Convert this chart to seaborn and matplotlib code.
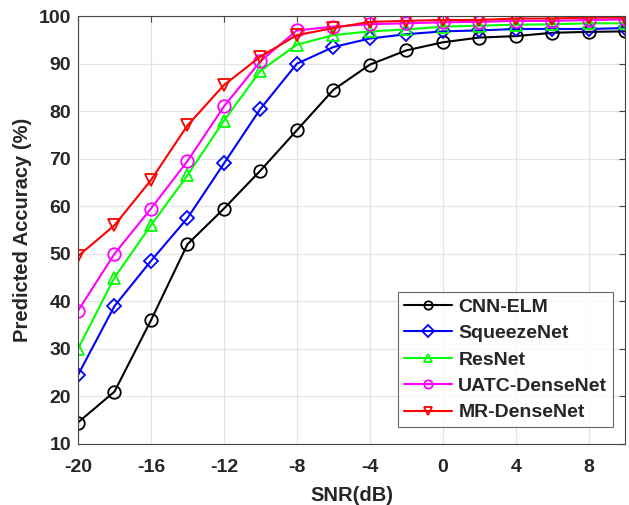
import numpy as np
import pandas as pd
import matplotlib
matplotlib.use("Agg")
import matplotlib.pyplot as plt
import seaborn as sns

# data
snr = [-20, -18, -16, -14, -12, -10, -8, -6, -4, -2, 0, 2, 4, 6, 8, 10]
cnn_elm = [14.5, 21.0, 36.0, 52.0, 59.5, 67.5, 76.0, 84.5, 89.8, 92.8, 94.5, 95.5, 95.8, 96.5, 96.7, 96.8]
squeezenet = [24.5, 39.0, 48.5, 57.5, 69.0, 80.5, 90.0, 93.5, 95.3, 96.2, 96.8, 97.0, 97.3, 97.3, 97.3, 97.5]
resnet = [30.0, 45.0, 56.0, 66.5, 78.0, 88.5, 94.0, 96.0, 96.8, 97.2, 97.8, 98.0, 98.2, 98.3, 98.5, 98.5]
uatc_densenet = [38.0, 50.0, 59.5, 69.5, 81.0, 90.5, 97.0, 97.8, 98.3, 98.5, 98.7, 98.8, 99.0, 99.0, 99.2, 99.3]
mr_densenet = [49.5, 56.0, 65.5, 77.0, 85.5, 91.5, 96.0, 97.5, 98.8, 99.0, 99.2, 99.2, 99.5, 99.5, 99.7, 99.7]

names = ["CNN-ELM", "SqueezeNet", "ResNet", "UATC-DenseNet", "MR-DenseNet"]
series = [cnn_elm, squeezenet, resnet, uatc_densenet, mr_densenet]
colors = ["black", "blue", "#00ff00", "magenta", "red"]
markers = ["o", "D", "^", "o", "v"]
msizes = [9, 7, 9, 9, 9]

sns.set_style("white")
plt.rcParams["font.family"] = ["Liberation Sans", "DejaVu Sans"]
plt.rcParams["font.weight"] = "bold"
plt.rcParams["axes.unicode_minus"] = False

fig = plt.figure(figsize=(6.29, 5.05), dpi=100)
ax = fig.add_axes([0.124, 0.121, 0.870, 0.847])

for name, vals, c, m, ms in zip(names, series, colors, markers, msizes):
    sns.lineplot(x=snr, y=vals, ax=ax, color=c, marker=m, markersize=ms,
                 markerfacecolor="none", markeredgecolor=c, markeredgewidth=1.3,
                 linewidth=1.5, label=name)

ax.set_xlim(-20, 10)
ax.set_ylim(10, 100)
ax.set_xticks(np.arange(-20, 10, 4))
ax.set_yticks(np.arange(10, 101, 10))
ax.grid(True, color="#e3e3e3", linewidth=0.9)
ax.tick_params(direction="in", top=True, right=True, labelsize=14, length=4, color="#444444")
ax.tick_params(axis="x", pad=11)
ax.tick_params(axis="y", pad=5)
for lab in ax.get_xticklabels() + ax.get_yticklabels():
    lab.set_fontweight("bold")
    lab.set_color("#262626")
for sp in ax.spines.values():
    sp.set_color("#444444")
    sp.set_linewidth(0.8)

ax.set_xlabel("SNR(dB)", fontsize=14.5, fontweight="bold", color="#262626", labelpad=7)
ax.set_ylabel("Predicted Accuracy (%)", fontsize=14.5, fontweight="bold", color="#262626", labelpad=5)

leg = ax.legend(loc="lower right", bbox_to_anchor=(0.985, 0.03), fontsize=14,
                frameon=True, fancybox=False, edgecolor="#444444",
                handlelength=2.5, borderpad=0.3, labelspacing=0.45, handletextpad=0.3,
                borderaxespad=0.2)
leg.get_frame().set_linewidth(0.8)
for t in leg.get_texts():
    t.set_fontweight("bold")
for h in leg.legend_handles:
    h.set_markersize(6)

fig.savefig("out.png", dpi=100)
